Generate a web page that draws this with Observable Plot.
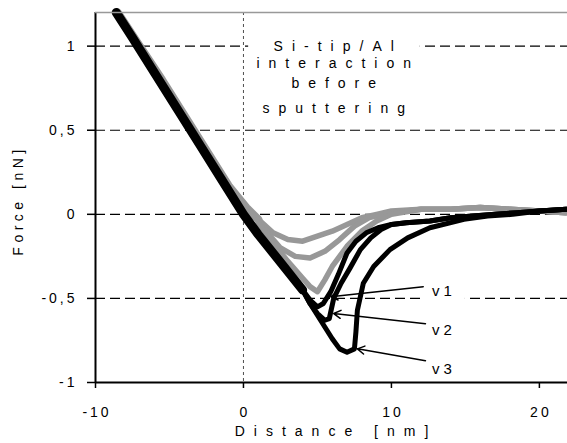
<!DOCTYPE html>
<html>
<head>
<meta charset="utf-8">
<script src="https://cdn.jsdelivr.net/npm/d3@7"></script>
<script src="https://cdn.jsdelivr.net/npm/@observablehq/plot@0.6"></script>
<style>
  html, body { margin: 0; padding: 0; background: white; }
</style>
</head>
<body>
<div id="chart"></div>
<script>
// ---- axes ----
const xDomain = [-10, 21.9];
const yDomain = [-1, 1.2];
const xTicks = [-10, 0, 10, 20];
const yTicks = [-1, -0.5, 0, 0.5, 1];
const gridY = [1, 0.5, 0, -0.5];
const xTitle = "Distance [nm]";
const yTitle = "Force [nN]";

// ---- black curves (v1, v2, v3) ----
const blackApproachX = [-8.6, -7.5, -6, -4.5, -3, -1.5, 0, 1, 2, 3, 4];
const blackApproachY = [1.2, 1.05, 0.84, 0.63, 0.42, 0.21, 0.0, -0.12, -0.23, -0.34, -0.45];
const v1X = [4, 4.5, 5, 5.4, 5.9, 6.4, 7, 7.6, 8.3, 9.1, 10];
const v1Y = [-0.45, -0.51, -0.55, -0.53, -0.46, -0.36, -0.23, -0.16, -0.11, -0.08, -0.06];
const v2X = [4, 4.5, 5, 5.5, 5.8, 6.1, 6.6, 7.2, 7.9, 8.6, 9.3, 10];
const v2Y = [-0.45, -0.53, -0.59, -0.63, -0.62, -0.5, -0.41, -0.32, -0.21, -0.14, -0.09, -0.06];
const v3X = [4, 4.5, 5, 5.5, 6, 6.5, 7, 7.5, 7.6, 7.7, 8.1, 8.8, 9.9, 11.1, 12.6, 14.9, 16.5, 18.2, 20, 21.8];
const v3Y = [-0.45, -0.53, -0.6, -0.67, -0.74, -0.8, -0.82, -0.8, -0.7, -0.57, -0.41, -0.31, -0.21, -0.14, -0.08, -0.03, -0.01, 0.0, 0.02, 0.03];
const blackTailX = [10, 11, 12.6, 14, 15.5, 17, 18.5, 20, 21.8];
const blackTailY = [-0.06, -0.05, -0.04, -0.02, -0.01, 0.0, 0.01, 0.02, 0.03];

// ---- gray curves ----
const grayApproachX = [-8.5, -7, -5.5, -4, -2.5, -1, 0.2, 1.0];
const grayApproachY = [1.2, 1.0, 0.8, 0.59, 0.38, 0.17, 0.04, -0.03];
const gAX = [1.0, 2, 3, 4, 5, 6, 7, 8, 9, 10];
const gAY = [-0.03, -0.11, -0.15, -0.16, -0.13, -0.1, -0.06, -0.02, 0.0, 0.02];
const gBX = [1.0, 1.8, 2.5, 3.5, 4.5, 5.5, 6.5, 7.5, 8.5, 10];
const gBY = [-0.03, -0.13, -0.2, -0.25, -0.26, -0.22, -0.15, -0.07, -0.02, 0.01];
const gCX = [1.0, 2, 3, 4, 4.5, 5, 5.5, 6, 7, 8, 9, 10];
const gCY = [-0.05, -0.17, -0.28, -0.38, -0.43, -0.46, -0.39, -0.31, -0.19, -0.1, -0.04, 0.0];
const grayTailX = [10, 12, 14, 16, 18, 20, 21.8];
const grayTailY = [0.02, 0.03, 0.03, 0.04, 0.03, 0.02, 0.01];

// ---- annotations ----
const annotLines = ["Si-tip/Al", "interaction", "before", "sputtering"];
const annotX = [6.1, 6.1, 6.1, 6.1];
const annotY = [1.0, 0.899, 0.78, 0.631];
const boxX1 = [0.35, 12.1];
const boxX2 = [11.95, 15.0];
const boxY1 = [0.55, -0.44];
const boxY2 = [1.1, -0.56];
const vLabels = ["v1", "v2", "v3"];
const vLabelX = [12.75, 12.75, 12.75];
const vLabelY = [-0.46, -0.69, -0.92];
const arrowX1 = [12.15, 12.3, 12.3];
const arrowY1 = [-0.43, -0.65, -0.87];
const arrowX2 = [5.9, 6.1, 7.7];
const arrowY2 = [-0.49, -0.59, -0.8];

// ---- build tables ----
function rows(name, xs, ys) { return xs.map((x, i) => ({series: name, x, y: ys[i]})); }
const grayTable = [
  ...rows("gA", [...grayApproachX, ...gAX.slice(1), ...grayTailX.slice(1)], [...grayApproachY, ...gAY.slice(1), ...grayTailY.slice(1)]),
  ...rows("gB", [...gBX, ...grayTailX.slice(1)], [...gBY, ...grayTailY.slice(1)]),
  ...rows("gC", [...gCX, ...grayTailX.slice(1)], [...gCY, ...grayTailY.slice(1)])
];
const grayApproach = rows("ga", grayApproachX, grayApproachY);
const blackApproach = rows("ba", blackApproachX, blackApproachY);
const blackTable = [
  ...rows("v1", [...v1X, ...blackTailX.slice(1)], [...v1Y, ...blackTailY.slice(1)]),
  ...rows("v2", [...v2X, ...blackTailX.slice(1)], [...v2Y, ...blackTailY.slice(1)]),
  ...rows("v3", v3X, v3Y)
];
const annot = annotLines.map((t, i) => ({t, x: annotX[i], y: annotY[i]}));
const boxes = boxX1.map((x1, i) => ({x1, x2: boxX2[i], y1: boxY1[i], y2: boxY2[i]}));
const vlab = vLabels.map((t, i) => ({t, x: vLabelX[i], y: vLabelY[i]}));
const arrows = arrowX1.map((x1, i) => ({x1, y1: arrowY1[i], x2: arrowX2[i], y2: arrowY2[i]}));

const fmt = d => String(d).replace(".", ",");
const gray = "#989898";

const chart = Plot.plot({
  width: 567,
  height: 443,
  marginLeft: 95,
  marginRight: 0,
  marginTop: 12,
  marginBottom: 61,
  x: {domain: xDomain},
  y: {domain: yDomain},
  style: {fontFamily: "'Liberation Sans', Arial, sans-serif", fontSize: "14px", color: "black", background: "white"},
  marks: [
    Plot.ruleY(gridY, {stroke: "black", strokeWidth: 1.2, strokeDasharray: "10,5"}),
    Plot.ruleX([0], {stroke: "#222", strokeWidth: 0.8, strokeDasharray: "3,3"}),
    Plot.rect(boxes, {x1: "x1", x2: "x2", y1: "y1", y2: "y2", fill: "white"}),
    Plot.line(grayApproach, {x: "x", y: "y", stroke: gray, strokeWidth: 8, strokeLinejoin: "round", strokeLinecap: "round"}),
    Plot.line(grayTable, {x: "x", y: "y", z: "series", stroke: gray, strokeWidth: 5.5, strokeLinejoin: "round", strokeLinecap: "round"}),
    Plot.line(blackApproach, {x: "x", y: "y", stroke: "black", strokeWidth: 9, strokeLinejoin: "round", strokeLinecap: "round"}),
    Plot.line(blackTable, {x: "x", y: "y", z: "series", stroke: "black", strokeWidth: 5, strokeLinejoin: "round", strokeLinecap: "round"}),
    Plot.ruleX([xDomain[0]], {stroke: "black", strokeWidth: 2}),
    Plot.ruleY([yDomain[0]], {stroke: "black", strokeWidth: 2}),
    Plot.ruleY([yDomain[1]], {stroke: "#999", strokeWidth: 1.5}),
    Plot.axisX(xTicks, {tickSize: 6, tickPadding: 19, tickFormat: fmt, label: null, strokeWidth: 1.5}),
    Plot.axisY(yTicks, {tickSize: 8, tickPadding: 10, tickFormat: fmt, label: null, strokeWidth: 1.5}),
    Plot.arrow(arrows, {x1: "x1", y1: "y1", x2: "x2", y2: "y2", stroke: "black", strokeWidth: 1.5, headLength: 8}),
    Plot.text(annot, {x: "x", y: "y", text: "t", fontSize: 14, fill: "black"}),
    Plot.text(vlab, {x: "x", y: "y", text: "t", fontSize: 15, textAnchor: "start", fill: "black"}),
    Plot.text([xTitle], {frameAnchor: "bottom", dy: 53, fontSize: 14, fill: "black"}),
    Plot.text([yTitle], {frameAnchor: "left", textAnchor: "middle", dx: -77, dy: 3, rotate: -90, fontSize: 14, fill: "black"})
  ]
});
document.getElementById("chart").appendChild(chart);

// letter spacing like the original
const spacing = new Map([[xTitle, 9], [yTitle, 4.5]]);
annotLines.forEach(t => spacing.set(t, 9));
vLabels.forEach(t => spacing.set(t, 4));
d3.select(chart).selectAll("text").each(function() {
  const t = this.textContent;
  const ls = spacing.has(t) ? spacing.get(t) : 3;
  this.style.letterSpacing = ls + "px";
  const tr = this.getAttribute("transform") || "";
  if (tr.includes("rotate")) return;
  const anchor = getComputedStyle(this).textAnchor;
  if (anchor === "middle") {
    const dx = parseFloat(this.getAttribute("dx") || 0);
    this.setAttribute("dx", dx + ls / 2);
  }
});
</script>
</body>
</html>
